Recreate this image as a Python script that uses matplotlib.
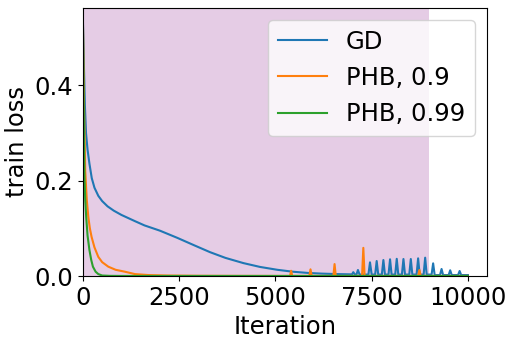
import numpy as np
from matplotlib import pyplot as plt

# GD: smooth decay, then oscillating spikes after ~7000 iterations
gd_iter = [0, 20, 50, 80, 120, 170, 230, 300, 400, 500, 640, 800, 1000, 1350, 1600,
           2000, 2450, 2900, 3300, 3700, 4170, 4600, 5050, 5450, 5830, 6200, 6600, 6950,
           6990, 7022, 7060, 7105, 7143, 7185,
           7415, 7456, 7500, 7590, 7630, 7670, 7764, 7804, 7844, 7937, 7977, 8017,
           8111, 8151, 8191, 8285, 8325, 8365, 8476, 8516, 8556, 8666, 8706, 8746,
           8849, 8889, 8929, 9056, 9096, 9136, 9275, 9315, 9355, 9499, 9539, 9579,
           9744, 9784, 9824, 10000]
gd_loss = [0.535, 0.46, 0.36, 0.3, 0.265, 0.235, 0.205, 0.185, 0.168, 0.157, 0.146, 0.137,
           0.128, 0.115, 0.106, 0.095, 0.08, 0.064, 0.05, 0.038, 0.027, 0.019, 0.013,
           0.009, 0.0065, 0.005, 0.004, 0.0035,
           0.0035, 0.008, 0.0035, 0.003, 0.0126, 0.003,
           0.003, 0.0286, 0.003, 0.003, 0.0314, 0.003, 0.003, 0.0335, 0.003, 0.003, 0.035,
           0.003, 0.003, 0.036, 0.003, 0.003, 0.0356, 0.003, 0.003, 0.0356, 0.003, 0.003,
           0.037, 0.003, 0.003, 0.0384, 0.003, 0.003, 0.0265, 0.002, 0.002, 0.0147, 0.002,
           0.002, 0.012, 0.002, 0.002, 0.0105, 0.002, 0.002]

# PHB, 0.9
phb9_iter = [0, 30, 60, 100, 140, 180, 225, 300, 400, 500, 660, 850, 1090, 1350, 1700,
             2200, 3000, 4000, 5000, 5380, 5408, 5436, 5880, 5911, 5942, 6505, 6536, 6567,
             7250, 7283, 7316, 8710, 8741, 8772, 10000]
phb9_loss = [0.535, 0.35, 0.22, 0.16, 0.124, 0.1, 0.082, 0.06, 0.04, 0.029, 0.0195, 0.013,
             0.009, 0.004, 0.002, 0.001, 0.0005, 0.0003, 0.0002, 0.0002, 0.011, 0.0002,
             0.0002, 0.014, 0.0002, 0.0002, 0.025, 0.0002, 0.0002, 0.059, 0.0002,
             0.0002, 0.0126, 0.0002, 0.0002]

# PHB, 0.99
phb99_iter = [0, 10, 25, 40, 60, 85, 120, 170, 215, 260, 330, 400, 500, 700, 1000, 10000]
phb99_loss = [0.535, 0.45, 0.32, 0.208, 0.16, 0.124, 0.085, 0.054, 0.034, 0.0195, 0.009,
              0.004, 0.001, 0.0003, 0.0001, 0.0]

plt.rcParams['font.size'] = 17.5
fig = plt.figure(figsize=(5.15, 3.45), dpi=100)
ax = fig.add_axes([0.161, 0.2, 0.785, 0.777])

ax.axvspan(0, 9000, color="purple", alpha=0.2, lw=0)
ax.plot(gd_iter, gd_loss, label="GD")
ax.plot(phb9_iter, phb9_loss, label="PHB, 0.9")
ax.plot(phb99_iter, phb99_loss, label="PHB, 0.99")

ax.set_xlim(0, 10500)
ax.set_ylim(0, 0.5618)
ax.set_xticks([0, 2500, 5000, 7500, 10000])
ax.set_yticks([0.0, 0.2, 0.4])
ax.set_xlabel("Iteration")
ax.set_ylabel("train loss")
ax.legend(loc="upper right")

fig.savefig("out.png", dpi=100)
